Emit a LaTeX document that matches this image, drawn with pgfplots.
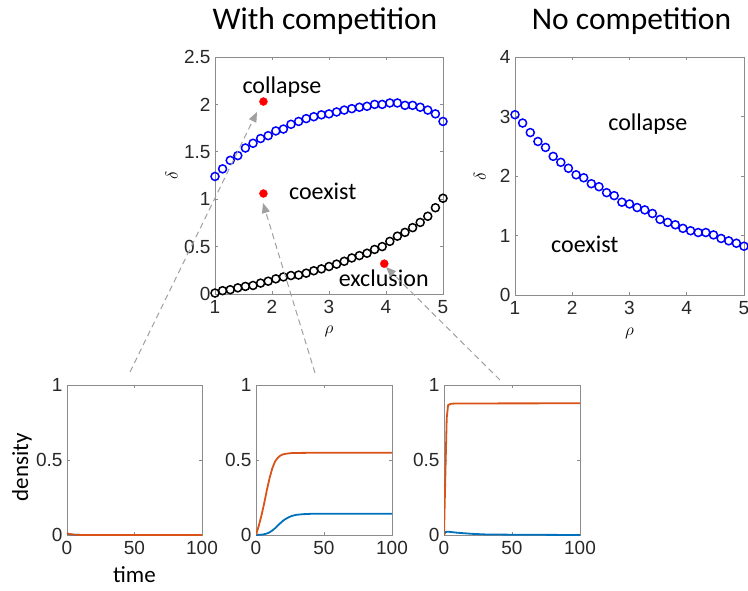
\documentclass[border=0pt]{standalone}
\usepackage{fontspec}
\setmainfont{Liberation Sans}
\newfontfamily\calib{Carlito}
\usepackage{pgfplots}
\pgfplotsset{compat=1.18}
\usetikzlibrary{arrows.meta}
\definecolor{axgray}{RGB}{140,140,140}
\definecolor{tickgray}{RGB}{40,40,40}
\definecolor{mblue}{RGB}{0,114,189}
\definecolor{morange}{RGB}{217,83,25}
\definecolor{arrgray}{RGB}{160,160,160}
\tikzset{lab/.style={font=\calib\fontsize{24}{28}\selectfont, anchor=base}}
\pgfplotsset{
  myax/.style={scale only axis, anchor=south west,
    axis line style={draw=axgray, line width=0.8pt},
    tick style={draw=axgray, line width=0.6pt},
    major tick length=3pt, tick align=inside,
    xticklabel pos=lower, yticklabel pos=left,
    ticklabel style={font=\fontsize{19}{22}\selectfont, text=tickgray},
    xticklabel style={yshift=-3pt},
    yticklabel style={xshift=-1pt},
    /pgf/number format/assume math mode=true,
  },
  topax/.style={myax, xmin=1, xmax=5, xtick={1,2,3,4,5},
    xlabel={$\rho$}, ylabel={$\delta$},
    xlabel style={at={(axis description cs:0.5,-0.16)}, anchor=center, font=\fontsize{17}{20}\selectfont},
    ylabel style={anchor=center, rotate=0, font=\fontsize{17}{20}\selectfont},
  },
  botax/.style={myax, width=136pt, height=150pt, xmin=0, xmax=100, ymin=0, ymax=1,
    xtick={0,50,100}, ytick={0,0.5,1},
  },
  bl/.style={mblue, line width=1.8pt},
  ol/.style={morange, line width=1.8pt},
  circ/.style={only marks, mark=o, mark size=4pt, mark options={line width=1.5pt}},
}
\begin{document}
\begin{tikzpicture}
\useasboundingbox (0,0) rectangle (748pt,590pt);
\node[font=\calib\fontsize{31.5}{36}\selectfont, anchor=base] at (325pt,560pt) {With competition};
\node[font=\calib\fontsize{31.5}{36}\selectfont, anchor=base] at (631.5pt,560pt) {No competition};

% ---- axis 1
\begin{axis}[topax, at={(215pt,296pt)}, width=228pt, height=237pt,
  ymin=0, ymax=2.5, ytick={0,0.5,1,1.5,2,2.5},
  ylabel style={at={(axis description cs:-0.19,0.5)}}]
\addplot[circ, blue] coordinates {
(1.000,1.24)(1.133,1.32)(1.267,1.41)(1.400,1.46)(1.533,1.54)(1.667,1.59)
(1.800,1.64)(1.933,1.67)(2.067,1.72)(2.200,1.74)(2.333,1.79)(2.467,1.82)
(2.600,1.85)(2.733,1.87)(2.867,1.89)(3.000,1.90)(3.133,1.92)(3.267,1.94)
(3.400,1.955)(3.533,1.97)(3.667,1.98)(3.800,2.00)(3.933,2.00)(4.067,2.015)
(4.200,2.015)(4.333,1.99)(4.467,1.99)(4.600,1.97)(4.733,1.94)(4.867,1.90)(5.000,1.82)};
\addplot[circ, black] coordinates {
(1.000,0.01)(1.133,0.035)(1.267,0.045)(1.400,0.065)(1.533,0.08)(1.667,0.09)
(1.800,0.115)(1.933,0.135)(2.067,0.16)(2.200,0.18)(2.333,0.195)(2.467,0.20)
(2.600,0.22)(2.733,0.245)(2.867,0.265)(3.000,0.29)(3.133,0.315)(3.267,0.345)
(3.400,0.38)(3.533,0.405)(3.667,0.43)(3.800,0.47)(3.933,0.50)(4.067,0.555)
(4.200,0.61)(4.333,0.65)(4.467,0.70)(4.600,0.755)(4.733,0.82)(4.867,0.91)(5.000,1.01)};
\addplot[only marks, mark=*, mark size=4pt, red, mark options={draw=red, fill=red}] coordinates {(1.85,2.03)(1.85,1.06)(3.97,0.32)};
\node[lab] at (axis cs:2.175,2.12) {collapse};
\node[lab] at (axis cs:2.89,1.0) {coexist};
\node[lab] at (axis cs:3.96,0.084) {exclusion};
\coordinate (h1) at (axis cs:1.737,1.92);
\coordinate (h2) at (axis cs:1.842,0.96);
\coordinate (h3) at (axis cs:4.0,0.285);
\end{axis}

% ---- axis 2
\begin{axis}[topax, at={(515pt,295pt)}, width=229pt, height=238pt,
  ymin=0, ymax=4, ytick={0,1,2,3,4},
  ylabel style={at={(axis description cs:-0.153,0.5)}}]
\addplot[circ, blue] coordinates {
(1.000,3.03)(1.133,2.89)(1.267,2.73)(1.400,2.58)(1.533,2.48)(1.667,2.33)
(1.800,2.23)(1.933,2.13)(2.067,2.02)(2.200,1.97)(2.333,1.87)(2.467,1.82)
(2.600,1.72)(2.733,1.67)(2.867,1.56)(3.000,1.53)(3.133,1.47)(3.267,1.43)
(3.400,1.37)(3.533,1.27)(3.667,1.22)(3.800,1.18)(3.933,1.12)(4.067,1.08)
(4.200,1.05)(4.333,1.05)(4.467,1.01)(4.600,0.95)(4.733,0.91)(4.867,0.87)(5.000,0.82)};
\node[lab] at (axis cs:3.32,2.76) {collapse};
\node[lab] at (axis cs:2.22,0.706) {coexist};
\end{axis}

% ---- bottom 1
\begin{axis}[botax, at={(67pt,55pt)}, width=135pt,
  xlabel={\calib\fontsize{23}{27}\selectfont time},
  ylabel={\calib\fontsize{23}{27}\selectfont density},
  xlabel style={at={(axis description cs:0.5,-0.267)}, anchor=center},
  ylabel style={at={(axis description cs:-0.333,0.45)}, anchor=center, rotate=0}]
\addplot[bl] coordinates {(0,0.01)(2,0.005)(5,0.002)(10,0.0005)(20,0)(100,0)};
\addplot[ol] coordinates {(0,0.012)(2,0.006)(5,0.002)(10,0.0005)(20,0)(100,0)};
\end{axis}

% ---- bottom 2
\begin{axis}[botax, at={(256pt,55pt)}]
\addplot[bl] coordinates {(0,0)(5,0.003)(8,0.01)(10,0.018)(12,0.03)(14,0.045)(16,0.062)(18,0.08)(20,0.096)(22,0.108)(24,0.118)(26,0.126)(28,0.131)(30,0.135)(35,0.139)(40,0.141)(50,0.142)(100,0.142)};
\addplot[ol] coordinates {(0,0)(2,0.06)(4,0.13)(6,0.21)(8,0.30)(10,0.38)(12,0.445)(14,0.49)(16,0.515)(18,0.53)(20,0.538)(23,0.543)(26,0.546)(30,0.547)(40,0.548)(100,0.548)};
\end{axis}

% ---- bottom 3
\begin{axis}[botax, at={(444pt,55pt)}]
\addplot[bl] coordinates {(0,0)(1,0.02)(3,0.022)(10,0.015)(20,0.008)(30,0.004)(50,0.002)(100,0)};
\addplot[ol] coordinates {(0,0)(1,0.4)(2,0.78)(3,0.865)(5,0.875)(10,0.877)(100,0.878)};
\end{axis}

\draw[arrgray, line width=1pt, dash pattern=on 6pt off 4pt, -{Triangle[length=10pt,width=8pt]}] (130pt,218pt) -- (h1);
\draw[arrgray, line width=1pt, dash pattern=on 6pt off 4pt, -{Triangle[length=10pt,width=8pt]}] (315pt,217pt) -- (h2);
\draw[arrgray, line width=1pt, dash pattern=on 6pt off 4pt, -{Triangle[length=10pt,width=8pt]}] (500pt,210pt) -- (h3);
\end{tikzpicture}
\end{document}
